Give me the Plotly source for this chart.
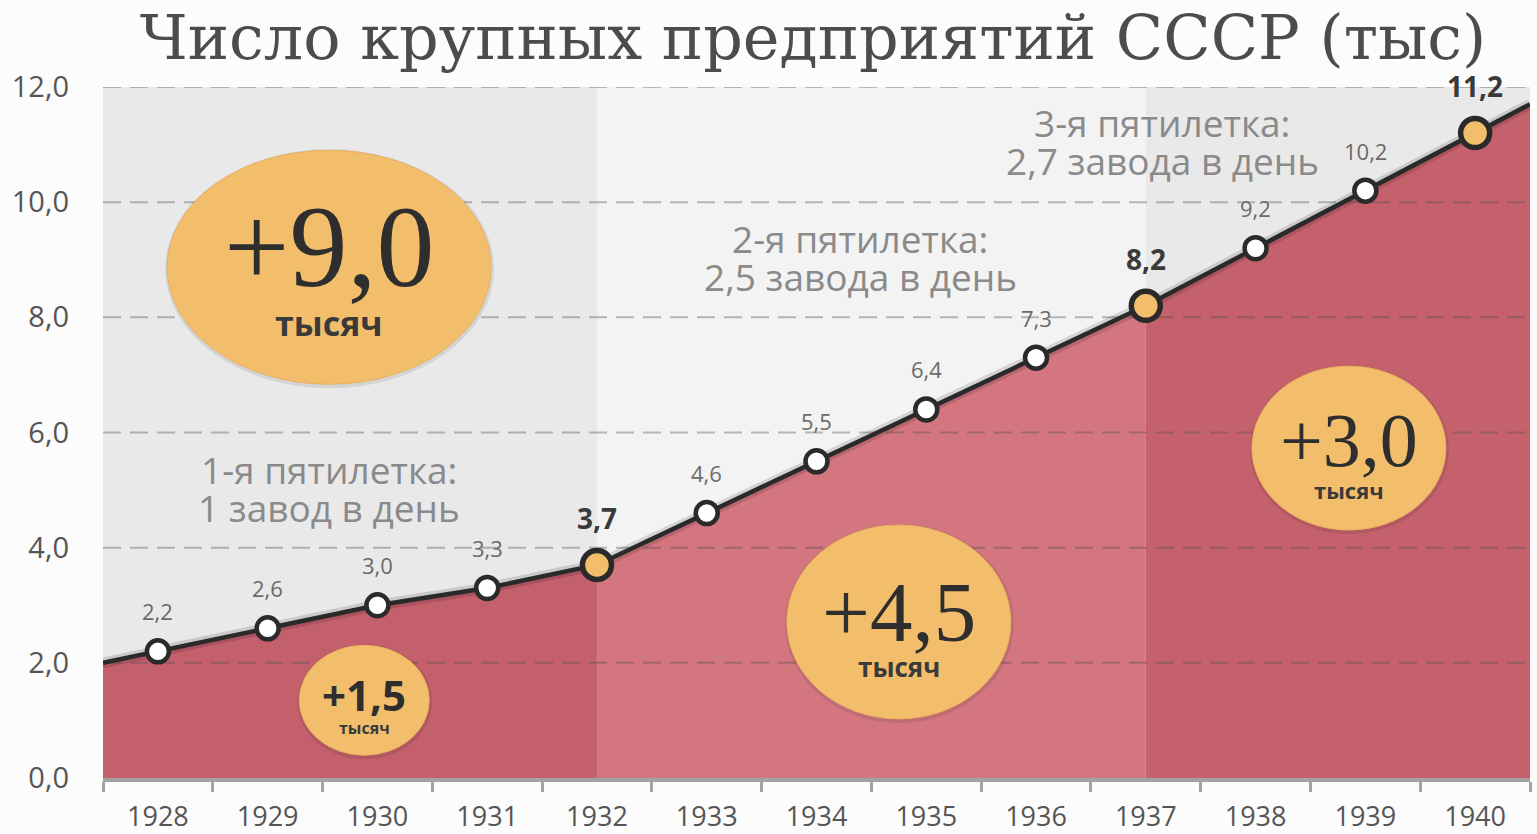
import plotly.graph_objects as go

# ---------------- data ----------------
years = [1928, 1929, 1930, 1931, 1932, 1933, 1934, 1935, 1936, 1937, 1938, 1939, 1940]
values = [2.2, 2.6, 3.0, 3.3, 3.7, 4.6, 5.5, 6.4, 7.3, 8.2, 9.2, 10.2, 11.2]
highlight_years = [1932, 1937, 1940]
# line continues to the chart edges
edge_x = [1927.5, 1940.5]
edge_y = [2.0, 11.7]
period_bounds = [1927.5, 1932, 1937, 1940.5]
period_lines = [["1-я пятилетка:", "1 завод в день"],
                ["2-я пятилетка:", "2,5 завода в день"],
                ["3-я пятилетка:", "2,7 завода в день"]]
badge_values = ["+9,0", "+4,5", "+3,0", "+1,5"]
badge_unit = "тысяч"
y_ticks = [0, 2, 4, 6, 8, 10, 12]
title = "Число крупных предприятий СССР (тыс)"

def fmt(v):
    return f"{v:.1f}".replace(".", ",")

# ---------------- styles ----------------
SANS = "Open Sans, Noto Sans, sans-serif"
SERIF = "Liberation Serif, DejaVu Serif, serif"
TITLE_FONT = "DejaVu Serif, Liberation Serif, serif"
fill_cols = ["#c4606c", "#d3767f", "#c5616d"]
band_cols = ["#e9e9e9", "#f3f3f3", "#e9e9e9"]
ORANGE = "#f3be6c"
LINE = "#2a2a2a"

all_x = [edge_x[0]] + years + [edge_x[1]]
all_y = [edge_y[0]] + values + [edge_y[1]]

fig = go.Figure()

# period fills
for i in range(3):
    lo, hi = period_bounds[i], period_bounds[i + 1]
    xs = [x for x in all_x if lo <= x <= hi]
    ys = [y for x, y in zip(all_x, all_y) if lo <= x <= hi]
    fig.add_trace(go.Scatter(x=xs, y=ys, mode="lines", fill="tozeroy",
                             fillcolor=fill_cols[i], line=dict(width=0),
                             hoverinfo="skip", showlegend=False))

# dashed grid lines above the fill
gx, gy = [], []
for t in y_ticks[1:]:
    gx += [period_bounds[0], period_bounds[-1], None]
    gy += [t, t, None]
fig.add_trace(go.Scatter(x=gx, y=gy, mode="lines",
                         line=dict(color="rgba(80,80,80,0.38)", width=2, dash="18px,9px"),
                         hoverinfo="skip", showlegend=False))

# soft shadow of the line
fig.add_trace(go.Scatter(x=all_x, y=all_y, mode="lines",
                         line=dict(color="rgba(0,0,0,0.13)", width=11),
                         hoverinfo="skip", showlegend=False))
# main line
fig.add_trace(go.Scatter(x=all_x, y=all_y, mode="lines",
                         line=dict(color=LINE, width=4.5),
                         hoverinfo="skip", showlegend=False))

# markers
norm_x = [x for x in years if x not in highlight_years]
norm_y = [v for x, v in zip(years, values) if x not in highlight_years]
hi_x = [x for x in years if x in highlight_years]
hi_y = [v for x, v in zip(years, values) if x in highlight_years]
fig.add_trace(go.Scatter(x=norm_x, y=norm_y, mode="markers",
                         marker=dict(size=22, color="white", line=dict(color=LINE, width=4.5)),
                         hoverinfo="skip", showlegend=False))
fig.add_trace(go.Scatter(x=hi_x, y=hi_y, mode="markers",
                         marker=dict(size=29, color=ORANGE, line=dict(color=LINE, width=5.5)),
                         hoverinfo="skip", showlegend=False))

annotations = []
# value labels
for x, v in zip(years, values):
    if x in highlight_years:
        annotations.append(dict(x=x, y=v, xref="x", yref="y", yshift=47, showarrow=False,
                                text=f"<b>{fmt(v)}</b>",
                                font=dict(family=SANS, size=28, color="#3a3a3a")))
    else:
        annotations.append(dict(x=x, y=v, xref="x", yref="y", yshift=40, showarrow=False,
                                text=fmt(v),
                                font=dict(family=SANS, size=22, color="#6a6a6a")))

shapes = []
# background bands
for i in range(3):
    shapes.append(dict(type="rect", xref="x", yref="y",
                       x0=period_bounds[i], x1=period_bounds[i + 1], y0=0, y1=y_ticks[-1],
                       fillcolor=band_cols[i], line=dict(width=0), layer="below"))

# badges: (center x, center y, half-width px, half-height px, value font, unit font,
#          value family, bold, value shift px, unit shift px)
badge_geom = [
    (1929.56, 8.87, 162, 117, 116, 34, SERIF, False, -20, 56),
    (1934.75, 2.71, 112, 97, 85, 26, SERIF, False, -10, 45),
    (1938.85, 5.73, 97, 82, 76, 22, SERIF, False, -8, 42),
    (1929.88, 1.35, 65, 55, 42, 16, SANS, True, -6, 28),
]
for (cx, cy, rx, ry, fs, us, fam, bold, vshift, ushift), val in zip(badge_geom, badge_values):
    # shadow
    shapes.append(dict(type="circle", xref="x", yref="y", xsizemode="pixel", ysizemode="pixel",
                       xanchor=cx, yanchor=cy, x0=-rx - 2, x1=rx + 3, y0=-ry - 4, y1=ry + 1,
                       fillcolor="rgba(0,0,0,0.09)", line=dict(width=0), layer="above"))
    shapes.append(dict(type="circle", xref="x", yref="y", xsizemode="pixel", ysizemode="pixel",
                       xanchor=cx, yanchor=cy, x0=-rx, x1=rx, y0=-ry, y1=ry,
                       fillcolor=ORANGE, line=dict(color="#e9b05e", width=1), layer="above"))
    annotations.append(dict(x=cx, y=cy, xref="x", yref="y", yshift=-vshift,
                            text=f"<b>{val}</b>" if bold else val, showarrow=False,
                            font=dict(family=fam, size=fs, color="#2e2e2e")))
    annotations.append(dict(x=cx, y=cy, xref="x", yref="y", yshift=-ushift,
                            text=f"<b>{badge_unit}</b>", showarrow=False,
                            font=dict(family=SANS, size=us, color="#3a3a3a")))

# period descriptions (anchor of the first line, line gap in px)
period_pos = [(1929.56, 5.35), (1934.4, 9.37), (1937.15, 11.39)]
LINE_GAP = 38
for (px, py), lines in zip(period_pos, period_lines):
    for k, t in enumerate(lines):
        annotations.append(dict(x=px, y=py, xref="x", yref="y", yshift=-k * LINE_GAP,
                                text=t, showarrow=False,
                                font=dict(family=SANS, size=37, color="#8a8a8a")))

fig.update_layout(
    width=1537, height=834,
    margin=dict(l=103, r=7, t=87, b=56, autoexpand=False),
    paper_bgcolor="#fcfcfc", plot_bgcolor="#fcfcfc",
    title=dict(text=title, x=0.529, xanchor="center", y=0.955, yanchor="middle",
               font=dict(family=TITLE_FONT, size=62, color="#4c4c4c")),
    shapes=shapes, annotations=annotations,
    showlegend=False,
)
fig.update_xaxes(range=[period_bounds[0], period_bounds[-1]], tickvals=years,
                 ticktext=[str(y) for y in years], ticks="", showgrid=False,
                 zeroline=False, showline=True, linecolor="#a3a3a3", linewidth=4,
                 ticklabelstandoff=12, automargin=False,
                 tickfont=dict(family=SANS, size=27, color="#555555"),
                 minor=dict(ticks="outside", tick0=1927.5, dtick=1, ticklen=10,
                            tickwidth=3, tickcolor="#a3a3a3", showgrid=False))
fig.update_yaxes(range=[0, y_ticks[-1]], tickvals=y_ticks, ticktext=[fmt(t) for t in y_ticks],
                 showgrid=False, zeroline=False, showline=False, ticks="",
                 ticklabelstandoff=33, automargin=False,
                 tickfont=dict(family=SANS, size=29, color="#555555"))

fig.write_html("out.html")
